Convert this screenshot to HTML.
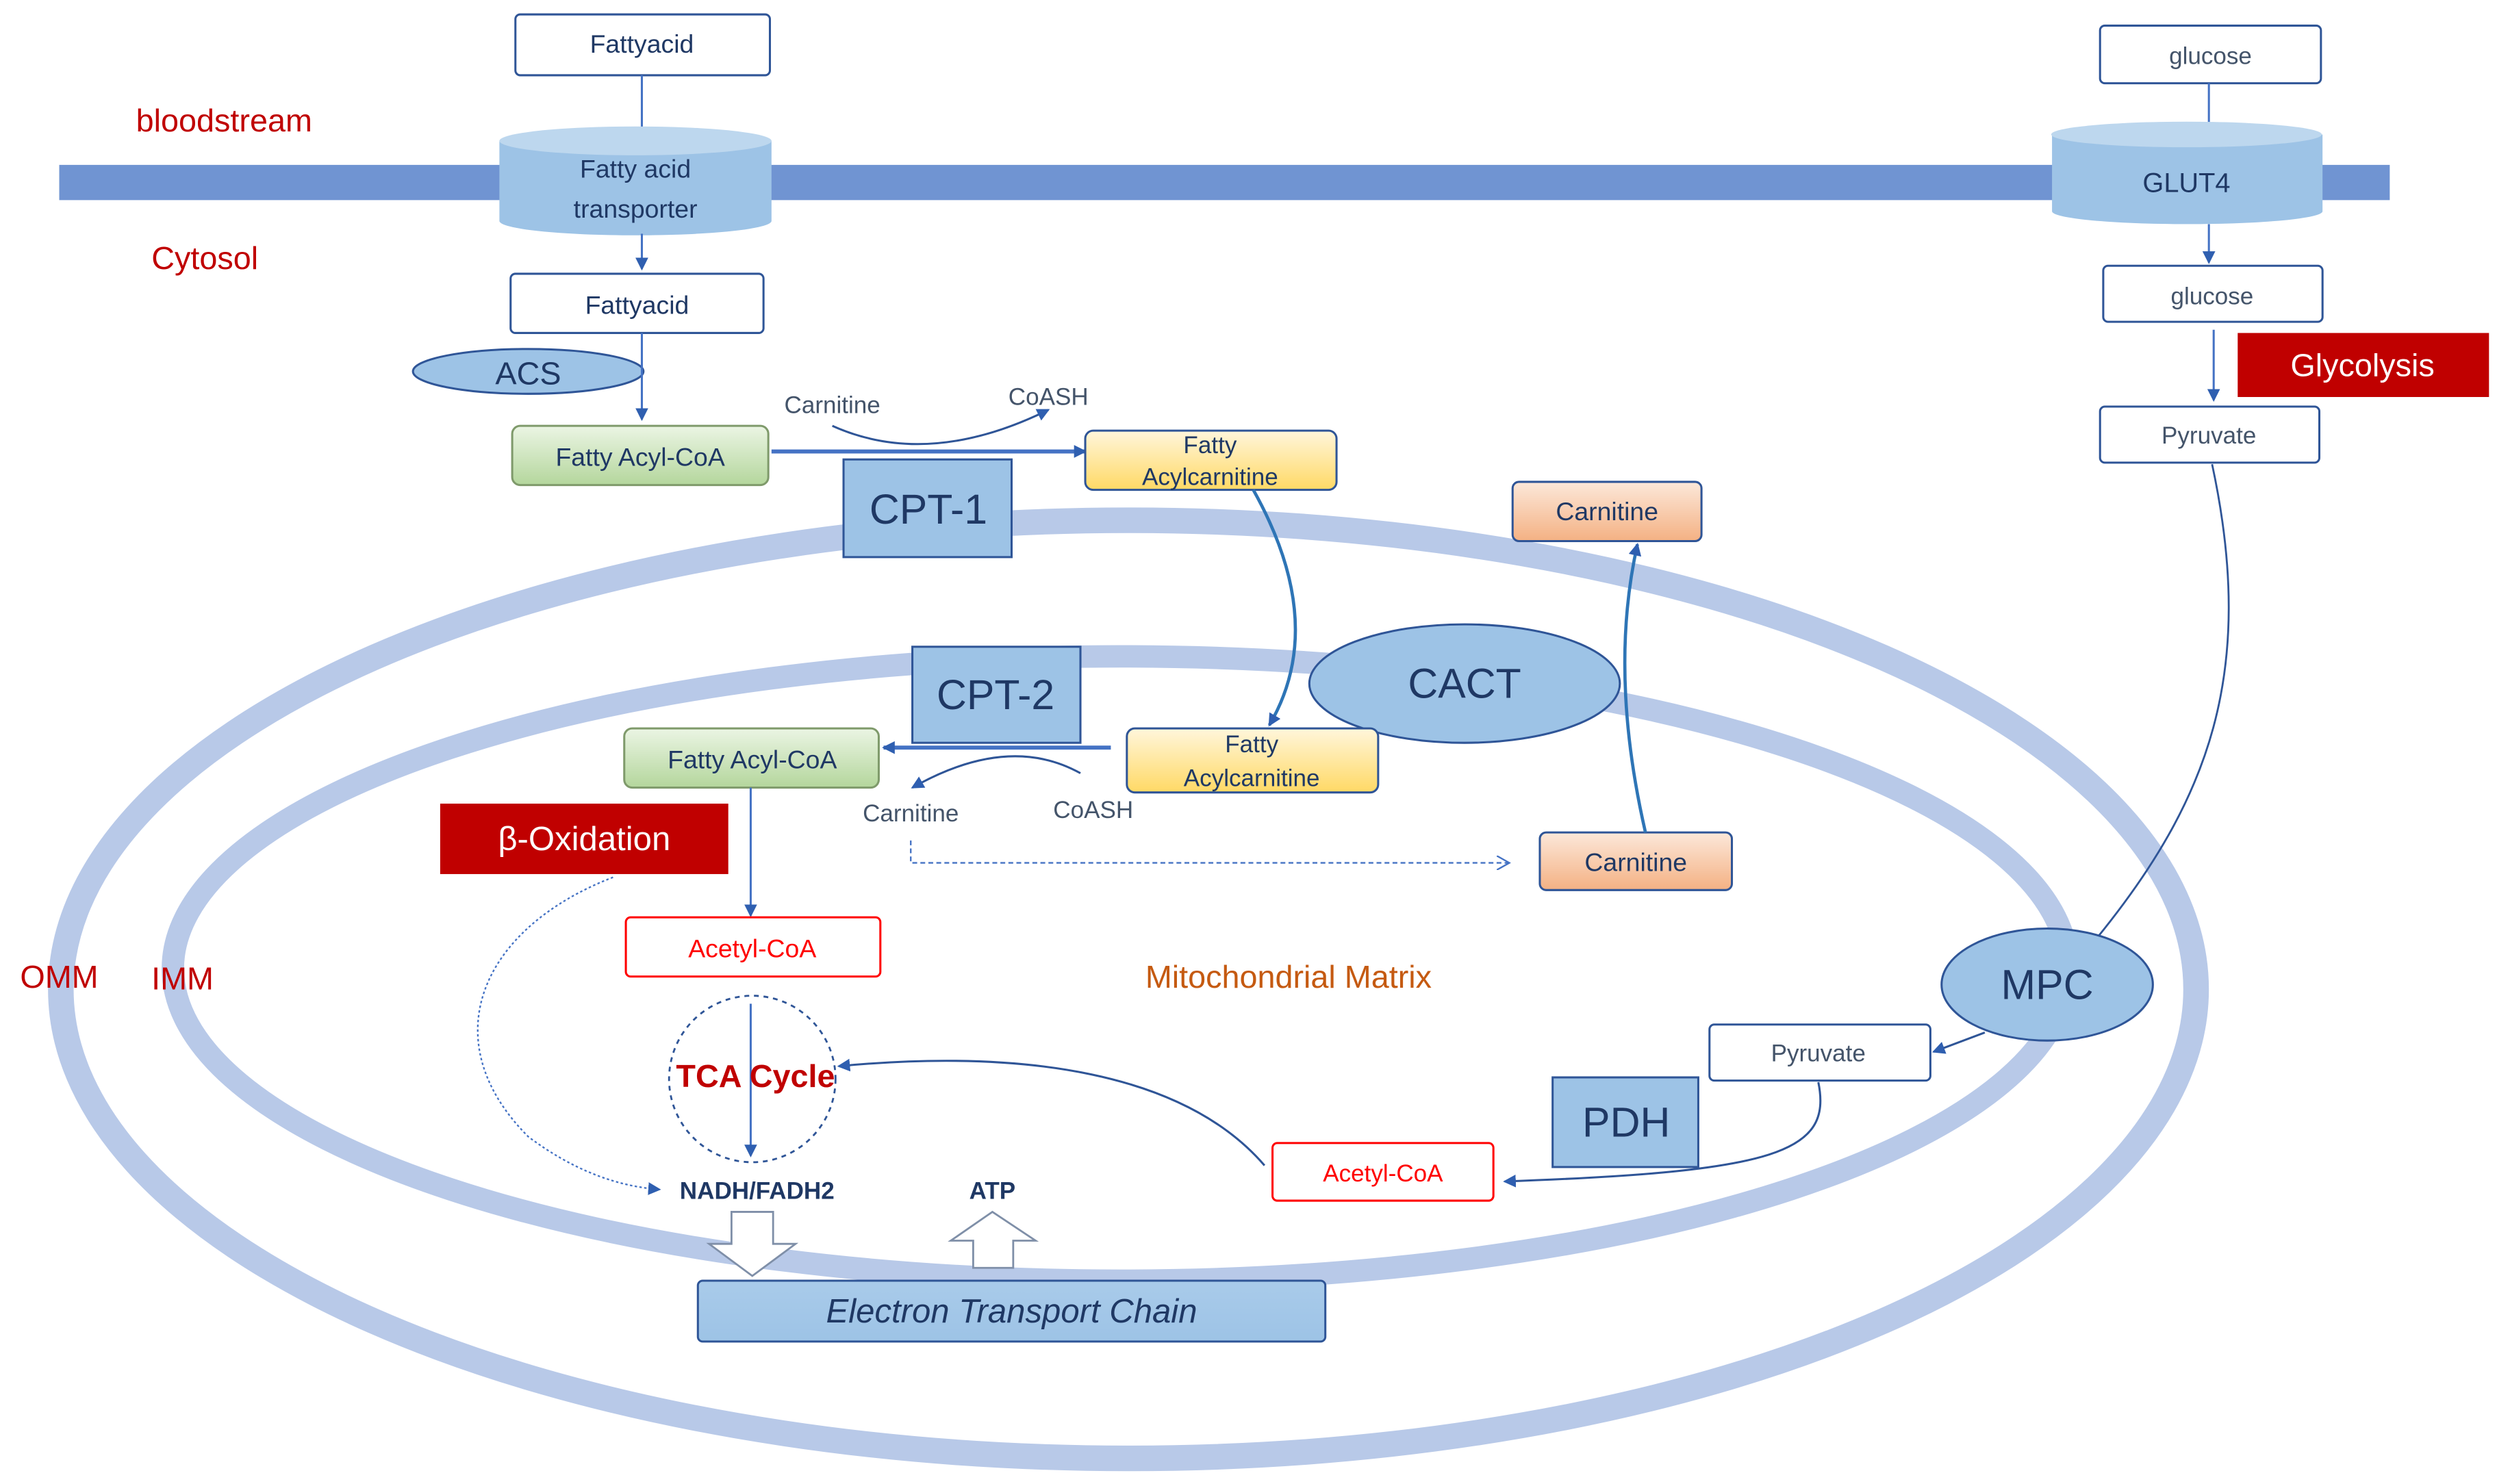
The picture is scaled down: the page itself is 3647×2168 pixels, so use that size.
<!DOCTYPE html>
<html><head><meta charset="utf-8"><style>
html,body{margin:0;padding:0;background:#fff;}
svg{display:block;}
text{font-family:"Liberation Sans",sans-serif;}
</style></head><body>
<svg width="3647" height="2168" viewBox="0 0 1560 927" preserveAspectRatio="none" xmlns="http://www.w3.org/2000/svg">
<defs>
<marker id="a" markerWidth="8" markerHeight="8" refX="7" refY="4" orient="auto" markerUnits="userSpaceOnUse"><path d="M0,0 L8,4 L0,8 Z" fill="#2f5fb0"/></marker>
<marker id="ad" markerWidth="9" markerHeight="9" refX="8" refY="4.5" orient="auto" markerUnits="userSpaceOnUse"><path d="M0,0 L8,4.5 L0,9" fill="none" stroke="#4472c4"/></marker>
<linearGradient id="g" x1="0" y1="0" x2="0" y2="1"><stop offset="0" stop-color="#ebf5e4"/><stop offset="1" stop-color="#b4d69c"/></linearGradient>
<linearGradient id="y" x1="0" y1="0" x2="0" y2="1"><stop offset="0" stop-color="#fff6dc"/><stop offset="1" stop-color="#ffd965"/></linearGradient>
<linearGradient id="o" x1="0" y1="0" x2="0" y2="1"><stop offset="0" stop-color="#fce8da"/><stop offset="1" stop-color="#f4b183"/></linearGradient>
<linearGradient id="b" x1="0" y1="0" x2="0" y2="1"><stop offset="0" stop-color="#a9cbea"/><stop offset="1" stop-color="#9dc3e6"/></linearGradient>
</defs>
<!-- membrane -->
<rect x="37" y="103" width="1456" height="22" fill="#7094d2"/>
<!-- mito ellipses -->
<ellipse cx="705" cy="618" rx="667" ry="293" fill="none" stroke="#b8c9e8" stroke-width="16"/>
<ellipse cx="700" cy="605" rx="592" ry="195" fill="none" stroke="#b8c9e8" stroke-width="14"/>
<!-- labels -->
<text x="140" y="82" font-size="20" fill="#c00000" text-anchor="middle">bloodstream</text>
<text x="128" y="168" font-size="20" fill="#c00000" text-anchor="middle">Cytosol</text>
<text x="37" y="617" font-size="20" fill="#c00000" text-anchor="middle">OMM</text>
<text x="114" y="618" font-size="20" fill="#c00000" text-anchor="middle">IMM</text>
<text x="805" y="617" font-size="20" fill="#c55a11" text-anchor="middle">Mitochondrial Matrix</text>
<!-- fatty acid top -->
<rect x="322" y="9" width="159" height="38" rx="3" fill="#fff" stroke="#2f5597" stroke-width="1.3"/>
<text x="401" y="33" font-size="16" text-anchor="middle" fill="#1f3864">Fattyacid</text>
<line x1="401" y1="47" x2="401" y2="82" stroke="#4472c4" stroke-width="1.3"/>
<!-- transporter cylinder -->
<path d="M312,88 L312,138 A85,9 0 0 0 482,138 L482,88 Z" fill="#9dc3e6"/>
<ellipse cx="397" cy="88" rx="85" ry="9" fill="#bdd7ee"/>
<text x="397" y="111" font-size="16" text-anchor="middle" fill="#1f3864">Fatty acid</text>
<text x="397" y="136" font-size="16" text-anchor="middle" fill="#1f3864">transporter</text>
<line x1="401" y1="146" x2="401" y2="168" stroke="#4472c4" stroke-width="1.3" marker-end="url(#a)"/>
<rect x="319" y="171" width="158" height="37" rx="3" fill="#fff" stroke="#2f5597" stroke-width="1.3"/>
<text x="398" y="196" font-size="16" text-anchor="middle" fill="#1f3864">Fattyacid</text>
<ellipse cx="330" cy="232" rx="72" ry="14" fill="#9dc3e6" stroke="#2f5597" stroke-width="1.3"/>
<text x="330" y="240" font-size="20" text-anchor="middle" fill="#1f3864">ACS</text>
<line x1="401" y1="208" x2="401" y2="262" stroke="#4472c4" stroke-width="1.3" marker-end="url(#a)"/>
<rect x="320" y="266" width="160" height="37" rx="5" fill="url(#g)" stroke="#7f9a6b" stroke-width="1.3"/>
<text x="400" y="291" font-size="16" text-anchor="middle" fill="#1f3864">Fatty Acyl-CoA</text>
<line x1="482" y1="282" x2="678" y2="282" stroke="#4472c4" stroke-width="2.5" marker-end="url(#a)"/>
<text x="520" y="258" font-size="15" text-anchor="middle" fill="#44546a">Carnitine</text>
<text x="655" y="253" font-size="15" text-anchor="middle" fill="#44546a">CoASH</text>
<path d="M520,266 Q580,293 655,256" fill="none" stroke="#2f5597" stroke-width="1.3" marker-end="url(#a)"/>
<rect x="527" y="287" width="105" height="61" fill="#9dc3e6" stroke="#2f5597" stroke-width="1.3"/>
<text x="580" y="327" font-size="26" text-anchor="middle" fill="#1f3864">CPT-1</text>
<rect x="678" y="269" width="157" height="37" rx="5" fill="url(#y)" stroke="#2f5597" stroke-width="1.3"/>
<text x="756" y="283" font-size="15" text-anchor="middle" fill="#1f3864">Fatty</text>
<text x="756" y="303" font-size="15" text-anchor="middle" fill="#1f3864">Acylcarnitine</text>
<path d="M783,306 Q830,390 793,453" fill="none" stroke="#2e75b6" stroke-width="2" marker-end="url(#a)"/>
<rect x="945" y="301" width="118" height="37" rx="4" fill="url(#o)" stroke="#2f5597" stroke-width="1.3"/>
<text x="1004" y="325" font-size="16" text-anchor="middle" fill="#1f3864">Carnitine</text>
<ellipse cx="915" cy="427" rx="97" ry="37" fill="#9dc3e6" stroke="#2f5597" stroke-width="1.3"/>
<text x="915" y="436" font-size="26" text-anchor="middle" fill="#1f3864">CACT</text>
<rect x="570" y="404" width="105" height="60" fill="#9dc3e6" stroke="#2f5597" stroke-width="1.3"/>
<text x="622" y="443" font-size="26" text-anchor="middle" fill="#1f3864">CPT-2</text>
<rect x="390" y="455" width="159" height="37" rx="5" fill="url(#g)" stroke="#7f9a6b" stroke-width="1.3"/>
<text x="470" y="480" font-size="16" text-anchor="middle" fill="#1f3864">Fatty Acyl-CoA</text>
<rect x="704" y="455" width="157" height="40" rx="5" fill="url(#y)" stroke="#2f5597" stroke-width="1.3"/>
<text x="782" y="470" font-size="15" text-anchor="middle" fill="#1f3864">Fatty</text>
<text x="782" y="491" font-size="15" text-anchor="middle" fill="#1f3864">Acylcarnitine</text>
<line x1="694" y1="467" x2="552" y2="467" stroke="#4472c4" stroke-width="2.5" marker-end="url(#a)"/>
<path d="M675,483 Q630,458 570,492" fill="none" stroke="#2f5597" stroke-width="1.3" marker-end="url(#a)"/>
<text x="569" y="513" font-size="15" text-anchor="middle" fill="#44546a">Carnitine</text>
<text x="683" y="511" font-size="15" text-anchor="middle" fill="#44546a">CoASH</text>
<path d="M569,525 L569,539 L943,539" fill="none" stroke="#4472c4" stroke-width="1" stroke-dasharray="3,2" marker-end="url(#ad)"/>
<rect x="962" y="520" width="120" height="36" rx="4" fill="url(#o)" stroke="#2f5597" stroke-width="1.3"/>
<text x="1022" y="544" font-size="16" text-anchor="middle" fill="#1f3864">Carnitine</text>
<path d="M1028,520 Q1005,420 1023,340" fill="none" stroke="#2e75b6" stroke-width="2" marker-end="url(#a)"/>
<rect x="275" y="502" width="180" height="44" fill="#c00000"/>
<text x="365" y="531" font-size="21" text-anchor="middle" fill="#fff">β-Oxidation</text>
<line x1="469" y1="492" x2="469" y2="572" stroke="#4472c4" stroke-width="1.3" marker-end="url(#a)"/>
<rect x="391" y="573" width="159" height="37" rx="3" fill="#fff" stroke="#ff0000" stroke-width="1.3"/>
<text x="470" y="598" font-size="16" text-anchor="middle" fill="#ff0000">Acetyl-CoA</text>
<circle cx="470" cy="674" r="52" fill="none" stroke="#2f5597" stroke-width="1.2" stroke-dasharray="3,3"/>
<line x1="469" y1="627" x2="469" y2="722" stroke="#4472c4" stroke-width="1.3" marker-end="url(#a)"/>
<text x="472" y="679" font-size="20" font-weight="bold" text-anchor="middle" fill="#c00000">TCA Cycle</text>
<path d="M383,548 C300,580 270,650 330,710 Q370,740 412,743" fill="none" stroke="#4472c4" stroke-width="1" stroke-dasharray="1.5,1.5" marker-end="url(#a)"/>
<text x="473" y="749" font-size="15" font-weight="bold" text-anchor="middle" fill="#1f3864">NADH/FADH2</text>
<text x="620" y="749" font-size="15" font-weight="bold" text-anchor="middle" fill="#1f3864">ATP</text>
<path d="M457,757 L483,757 L483,777 L497,777 L470,797 L443,777 L457,777 Z" fill="#fff" stroke="#7f8fa8" stroke-width="1.2"/>
<path d="M608,792 L633,792 L633,775 L647,775 L620,757 L594,775 L608,775 Z" fill="#fff" stroke="#7f8fa8" stroke-width="1.2"/>
<rect x="436" y="800" width="392" height="38" rx="3" fill="url(#b)" stroke="#2f5597" stroke-width="1.3"/>
<text x="632" y="826" font-size="21" font-style="italic" text-anchor="middle" fill="#1f3864">Electron Transport Chain</text>
<!-- glucose side -->
<rect x="1312" y="16" width="138" height="36" rx="3" fill="#fff" stroke="#2f5597" stroke-width="1.3"/>
<text x="1381" y="40" font-size="15" text-anchor="middle" fill="#44546a">glucose</text>
<line x1="1380" y1="52" x2="1380" y2="78" stroke="#4472c4" stroke-width="1.3"/>
<path d="M1282,84 L1282,132 A84.5,8 0 0 0 1451,132 L1451,84 Z" fill="#9dc3e6"/>
<ellipse cx="1366" cy="84" rx="84.5" ry="8" fill="#bdd7ee"/>
<text x="1366" y="120" font-size="17" text-anchor="middle" fill="#1f3864">GLUT4</text>
<line x1="1380" y1="140" x2="1380" y2="164" stroke="#4472c4" stroke-width="1.3" marker-end="url(#a)"/>
<rect x="1314" y="166" width="137" height="35" rx="3" fill="#fff" stroke="#2f5597" stroke-width="1.3"/>
<text x="1382" y="190" font-size="15" text-anchor="middle" fill="#44546a">glucose</text>
<line x1="1383" y1="206" x2="1383" y2="250" stroke="#4472c4" stroke-width="1.3" marker-end="url(#a)"/>
<rect x="1398" y="208" width="157" height="40" fill="#c00000"/>
<text x="1476" y="235" font-size="20" text-anchor="middle" fill="#fff">Glycolysis</text>
<rect x="1312" y="254" width="137" height="35" rx="3" fill="#fff" stroke="#2f5597" stroke-width="1.3"/>
<text x="1380" y="277" font-size="15" text-anchor="middle" fill="#44546a">Pyruvate</text>
<path d="M1382,290 C1410,420 1380,500 1310,586" fill="none" stroke="#2f5597" stroke-width="1.2"/>
<ellipse cx="1279" cy="615" rx="66" ry="35" fill="#9dc3e6" stroke="#2f5597" stroke-width="1.3"/>
<text x="1279" y="624" font-size="26" text-anchor="middle" fill="#1f3864">MPC</text>
<line x1="1240" y1="645" x2="1208" y2="657" stroke="#2f5597" stroke-width="1.3" marker-end="url(#a)"/>
<rect x="1068" y="640" width="138" height="35" rx="3" fill="#fff" stroke="#2f5597" stroke-width="1.3"/>
<text x="1136" y="663" font-size="15" text-anchor="middle" fill="#44546a">Pyruvate</text>
<rect x="970" y="673" width="91" height="56" fill="#9dc3e6" stroke="#2f5597" stroke-width="1.3"/>
<text x="1016" y="710" font-size="26" text-anchor="middle" fill="#1f3864">PDH</text>
<path d="M1136,676 C1145,720 1110,732 940,738" fill="none" stroke="#2f5597" stroke-width="1.3" marker-end="url(#a)"/>
<rect x="795" y="714" width="138" height="36" rx="3" fill="#fff" stroke="#ff0000" stroke-width="1.3"/>
<text x="864" y="738" font-size="15" text-anchor="middle" fill="#ff0000">Acetyl-CoA</text>
<path d="M790,728 C740,670 640,655 524,666" fill="none" stroke="#2f5597" stroke-width="1.3" marker-end="url(#a)"/>
</svg>
</body></html>
